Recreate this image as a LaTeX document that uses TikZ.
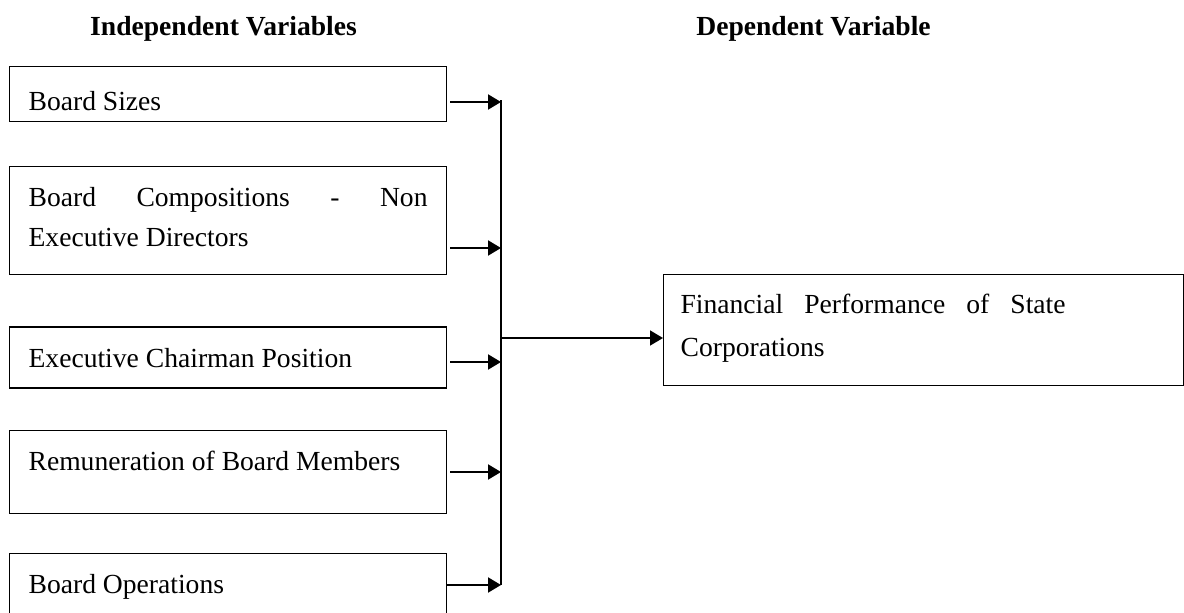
\documentclass[tikz,border=0pt]{standalone}
\usepackage{fontspec}
\setmainfont{Liberation Serif}
\usetikzlibrary{arrows.meta, positioning}
\tolerance=10000
\hyphenpenalty=10000
\hbadness=10000

\begin{document}
\begin{tikzpicture}[x=0.5pt, y=-0.5pt,
  font=\fontsize{13.8pt}{20pt}\selectfont,
  head/.style={anchor=base, font=\fontsize{13.8pt}{20pt}\selectfont\bfseries},
  varbox/.style={draw, line width=0.6pt, text width=199.5pt, inner xsep=9.5pt,
    inner ysep=0pt, align=justify, text height=20pt},
  depbox/.style={draw, line width=0.6pt, text width=243pt, inner xsep=8.5pt,
    inner ysep=0pt, align=justify, text height=19.5pt, text depth=36pt},
  feed/.style={-{Triangle[length=6.5pt,width=7.5pt]}, line width=1pt},
  bus/.style={line width=0.6pt}]
\useasboundingbox (0,0) rectangle (1184,612);
\clip (0,0) rectangle (1184,612);

% Titulos
\node[head] (hind) at (223.5,35) {Independent Variables};
\node[head] (hdep) at (813.5,35) {Dependent Variable};

% Variables independientes
\node[varbox, anchor=north west, text height=22pt, text depth=5.5pt] (b1) at (9,66) {Board Sizes};
\node[varbox, below=22pt of b1, text depth=34pt] (b2) {Board Compositions - Non Executive Directors};
\node[varbox, below=25.5pt of b2, text depth=10.5pt] (b3) {Executive Chairman Position};
\node[varbox, below=20.5pt of b3, text depth=21.5pt] (b4) {Remuneration of Board Members};
\node[varbox, below=19.5pt of b4, text depth=22pt] (b5) {Board Operations};

% Variable dependiente
\node[depbox, anchor=north west] (rb) at (663,274)
  {\parbox[t]{192.5pt}{\fontsize{13.8pt}{21.5pt}\selectfont
   \leftskip=0pt \rightskip=0pt \parfillskip=0pt plus 1fil
   Financial Performance of State Corporations}\hfill\null};

% Puntos del bus
\coordinate (j1) at (501,102);
\coordinate (j2) at (501,248);
\coordinate (j3) at (501,362);
\coordinate (j4) at (501,472);
\coordinate (j5) at (501,585);
\coordinate (jm) at (501,338);

% Conexiones
\draw[feed, shorten <=1.5pt] (b1.east |- j1) -- (j1);
\draw[feed, shorten <=1.5pt] (b2.east |- j2) -- (j2);
\draw[feed, shorten <=1.5pt] (b3.east |- j3) -- (j3);
\draw[feed, shorten <=1.5pt] (b4.east |- j4) -- (j4);
\draw[feed] (b5.east |- j5) -- (j5);
\draw[bus] ([yshift=1pt]j1) -- (j5);
\draw[feed, line width=0.8pt] (jm) -- (jm -| rb.west);
\end{tikzpicture}
\end{document}
